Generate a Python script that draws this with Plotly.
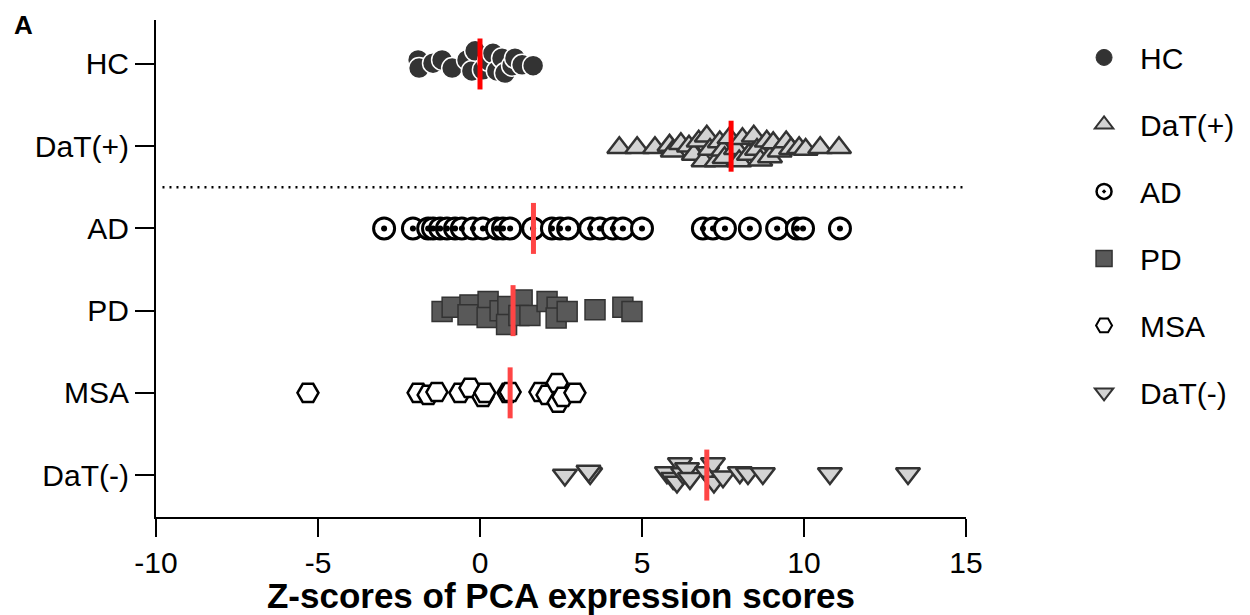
import plotly.graph_objects as go

# ---------------- data ----------------
categories = ["HC", "DaT(+)", "AD", "PD", "MSA", "DaT(-)"]

hc_x = [-1.91, -1.88, -1.45, -1.17, -0.86, -0.40, -0.25, -0.15, 0.09, 0.25,
        0.40, 0.52, 0.68, 0.77, 0.99, 1.08, 1.30, 1.64]
hc_jit = [-0.05, 0.05, -0.01, -0.05, 0.05, -0.05, 0.085, -0.16, 0.07, -0.04,
          -0.13, 0.085, -0.07, 0.11, 0.02, -0.07, 0.01, 0.02]

datp_x = [4.30, 4.85, 5.40, 5.85, 5.95, 6.20, 6.45, 6.60, 6.75, 6.90,
          7.00, 7.10, 7.30, 7.40, 7.50, 7.55, 7.70, 7.90, 8.00, 8.10,
          8.30, 8.45, 8.55, 8.65, 8.85, 8.95, 9.05, 9.25, 9.45, 9.60,
          9.85, 10.05, 10.50, 11.08]
datp_jit = [0.02, 0.02, 0.02, -0.01, 0.06, -0.03, 0.0, 0.10, -0.06, 0.18,
            -0.12, 0.04, 0.18, -0.05, 0.05, 0.14, -0.10, 0.03, 0.18, -0.09,
            0.10, -0.12, 0.04, 0.17, -0.06, 0.13, -0.04, 0.06, -0.05, 0.03,
            0.02, 0.04, 0.02, 0.02]

ad_x = [-2.96, -2.07, -1.60, -1.45, -1.23, -1.02, -0.77, -0.56, -0.22, 0.09,
        0.52, 0.71, 0.93, 1.64, 2.22, 2.47, 2.72, 3.40, 3.70, 4.10,
        4.41, 5.00, 6.88, 7.19, 7.56, 8.33, 9.17, 9.78, 9.97, 11.11]
ad_jit = [0.0] * len(ad_x)

pd_x = [-1.17, -0.86, -0.31, -0.37, 0.25, 0.22, 0.62, 0.86, 0.82, 1.30,
        1.20, 1.54, 2.07, 2.38, 2.35, 2.69, 3.55, 4.41, 4.69]
pd_jit = [0.01, -0.04, -0.07, 0.05, -0.11, 0.085, 0.0, -0.05, 0.17, -0.13,
          0.06, 0.06, -0.11, -0.04, 0.09, 0.01, -0.01, -0.04, 0.01]

msa_x = [-5.31, -1.91, -1.60, -1.33, -0.62, -0.31, 0.09, 0.15, 0.86, 0.93,
         1.85, 2.07, 2.38, 2.41, 2.56, 2.93]
msa_jit = [0.0, 0.0, 0.025, -0.01, 0.0, -0.06, 0.05, 0.0, 0.0, -0.01,
           -0.01, 0.025, -0.12, 0.12, 0.05, 0.0]

datn_x = [2.62, 3.40, 3.35, 5.77, 5.96, 6.08, 6.17, 6.27, 6.39, 6.48,
          7.01, 7.19, 7.22, 7.50, 8.02, 8.27, 8.73, 10.80, 13.21]
datn_jit = [0.0, -0.02, -0.05, -0.03, 0.04, 0.085, -0.14, -0.02, -0.08, 0.04,
            -0.03, -0.14, 0.085, 0.02, -0.03, -0.02, -0.02, -0.02, -0.02]

group_means = [0.0, 7.75, 1.65, 1.02, 0.93, 7.0]

x_ticks = [-10, -5, 0, 5, 10, 15]
x_title = "Z-scores of PCA expression scores"
panel_label = "A"

# ---------------- styles ----------------
FONT = "Arial, Liberation Sans, sans-serif"
styles = [
    dict(symbol="circle", size=21, color="#333333", line=dict(color="white", width=1.5)),
    dict(symbol="triangle-up", size=21, color="#d3d3d3", line=dict(color="#333333", width=2.5)),
    dict(symbol="circle-dot", size=21, color="white", line=dict(color="black", width=3)),
    dict(symbol="square", size=20, color="#595959", line=dict(color="#333333", width=1.5)),
    dict(symbol="hexagon2", size=21, color="white", line=dict(color="black", width=2.5)),
    dict(symbol="triangle-down", size=21, color="#d3d3d3", line=dict(color="#333333", width=2.5)),
]
legend_styles = [
    dict(symbol="circle", size=17, color="#333333", line=dict(color="#333333", width=1)),
    dict(symbol="triangle-up", size=16, color="#d3d3d3", line=dict(color="#333333", width=2)),
    dict(symbol="circle-dot", size=15, color="white", line=dict(color="black", width=2.5)),
    dict(symbol="square", size=16, color="#595959", line=dict(color="#333333", width=1.5)),
    dict(symbol="hexagon2", size=16, color="white", line=dict(color="black", width=2)),
    dict(symbol="triangle-down", size=16, color="#d3d3d3", line=dict(color="#333333", width=2)),
]
mean_colors = ["#ff0000", "#ff0000", "#ff4545", "#ff4545", "#ff4545", "#ff4545"]

groups = [(hc_x, hc_jit), (datp_x, datp_jit), (ad_x, ad_jit),
          (pd_x, pd_jit), (msa_x, msa_jit), (datn_x, datn_jit)]

fig = go.Figure()

for i, (name, (xs, js), st) in enumerate(zip(categories, groups, styles)):
    ys = [i + j for j in js]
    fig.add_trace(go.Scatter(
        x=xs, y=ys, mode="markers", name=name, legendgroup=name,
        showlegend=False, marker=st, hoverinfo="x+name"))
    if name == "AD":
        fig.add_trace(go.Scatter(
            x=xs, y=ys, mode="markers", showlegend=False, hoverinfo="skip",
            marker=dict(symbol="circle", size=6, color="black")))

for i, (m, c) in enumerate(zip(group_means, mean_colors)):
    fig.add_trace(go.Scatter(
        x=[m, m], y=[i - 0.31, i + 0.31], mode="lines", showlegend=False,
        hoverinfo="skip", line=dict(color=c, width=5)))

# legend entries
for name, st in zip(categories, legend_styles):
    fig.add_trace(go.Scatter(
        x=[None], y=[None], mode="markers", name=name, legendgroup=name,
        showlegend=True, marker=st))

# dotted separator between DaT(+) and AD
fig.add_shape(type="line", xref="x", yref="y", x0=-9.8, x1=15, y0=1.5, y1=1.5,
              line=dict(color="black", width=2.5, dash="2px,5px"))

fig.add_annotation(text="<b>" + panel_label + "</b>", xref="paper", yref="paper",
                   x=-0.178, y=1.024, xanchor="left", yanchor="top",
                   showarrow=False, font=dict(family=FONT, size=26, color="black"))

fig.update_layout(
    width=1242, height=607,
    margin=dict(l=148, r=284, t=12, b=98, autoexpand=False),
    paper_bgcolor="white", plot_bgcolor="white",
    font=dict(family=FONT, size=30, color="black"),
    showlegend=True,
    legend=dict(x=1.126, y=0.977, xanchor="left", yanchor="top",
                font=dict(family=FONT, size=30, color="black"),
                itemsizing="trace", itemwidth=62, tracegroupgap=25,
                bgcolor="rgba(0,0,0,0)"),
    xaxis=dict(range=[-10, 15], tickvals=x_ticks, ticktext=[str(t) for t in x_ticks],
               showgrid=False, zeroline=False, showline=True, linecolor="black",
               linewidth=2, ticks="outside", ticklen=18, tickwidth=2, tickcolor="black",
               automargin=False,
               tickfont=dict(family=FONT, size=30, color="black"),
               title=dict(text="<b>" + x_title + "</b>", standoff=14,
                          font=dict(family=FONT, size=35, color="black"))),
    yaxis=dict(range=[5.51, -0.535], tickvals=list(range(len(categories))),
               ticktext=categories, showgrid=False, zeroline=False, showline=True,
               linecolor="black", linewidth=2, ticks="outside", ticklen=19,
               tickwidth=2, tickcolor="black", automargin=False,
               tickfont=dict(family=FONT, size=30, color="black")),
)

fig.write_html("out.html")
